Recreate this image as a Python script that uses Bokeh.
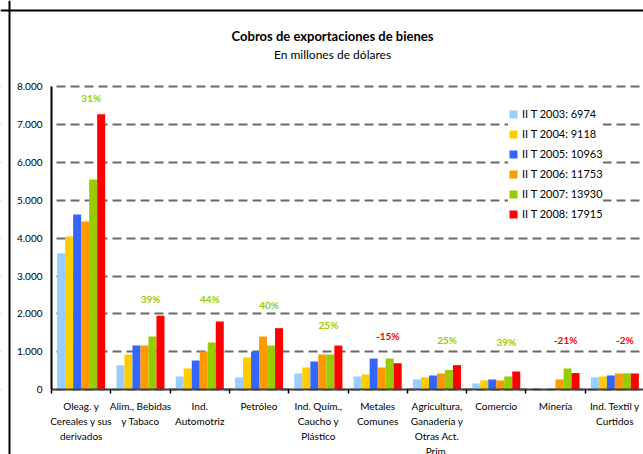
from bokeh.plotting import figure
from bokeh.models import (ColumnDataSource, FixedTicker, Legend, LegendItem,
                          Range1d, LinearAxis, Label, Span, BoxAnnotation)
from bokeh.transform import dodge
from bokeh.core.properties import value
from bokeh.embed import file_html
from bokeh.resources import INLINE

# ---------------- data ----------------
categories = [
    "Oleag. y\nCereales y sus\nderivados",
    "Alim., Bebidas\ny Tabaco",
    "Ind.\nAutomotriz",
    "Petróleo",
    "Ind. Quím.,\nCaucho y\nPlástico",
    "Metales\nComunes",
    "Agricultura,\nGanadería y\nOtras Act.\nPrim.",
    "Comercio",
    "Minería",
    "Ind. Textil y\nCurtidos",
]
series_labels = ["II T 2003: 6974", "II T 2004: 9118", "II T 2005: 10963",
                 "II T 2006: 11753", "II T 2007: 13930", "II T 2008: 17915"]
v2003 = [3600, 640, 350, 325, 430, 350, 272, 167, 10, 325]
v2004 = [4045, 930, 561, 851, 588, 403, 325, 246, 10, 351]
v2005 = [4625, 1166, 772, 1009, 746, 824, 377, 272, 10, 377]
v2006 = [4440, 1166, 1009, 1403, 930, 588, 430, 246, 272, 430]
v2007 = [5550, 1403, 1245, 1166, 930, 824, 525, 351, 561, 435]
v2008 = [7265, 1956, 1798, 1625, 1166, 700, 650, 482, 440, 430]
pct_labels = ["31%", "39%", "44%", "40%", "25%", "-15%", "25%", "39%", "-21%", "-2%"]
pct_label_y = [7700, 2400, 2400, 2245, 1715, 1415, 1320, 1265, 1300, 1300]
y_ticks = [0, 1000, 2000, 3000, 4000, 5000, 6000, 7000, 8000]
y_tick_labels = ["0", "1.000", "2.000", "3.000", "4.000", "5.000", "6.000", "7.000", "8.000"]

title_text = "Cobros de exportaciones de bienes"
subtitle_text = "En millones de dólares"

colors = ["#99CCFF", "#FFCC00", "#3366FF", "#FF9900", "#99CC00", "#FF0000"]
FONT = "Lato"

n = len(categories)
xc = [i + 0.5 for i in range(n)]
series = [v2003, v2004, v2005, v2006, v2007, v2008]
data = dict(x=xc, cat=categories)
for k, s in enumerate(series):
    data[f"s{k}"] = s
src = ColumnDataSource(data)

# layout: the frame fills the whole canvas; axes sit at fixed data locations
W, H = 643, 454
px_x = 59.3            # pixels per category
px_y = 37.91 / 1000.0  # pixels per unit
x0 = -51 / px_x
y1 = 8000 + 86 / px_y
x_range = Range1d(x0, x0 + W / px_x)
y_range = Range1d(y1 - H / px_y, y1)

p = figure(width=W, height=H, x_range=x_range, y_range=y_range,
           output_backend="svg", toolbar_location=None,
           x_axis_location=None, y_axis_location=None,
           min_border_left=0, min_border_right=0, min_border_top=0, min_border_bottom=0)
p.outline_line_color = None
p.background_fill_color = "white"
p.border_fill_color = "white"

# grid
p.xgrid.grid_line_color = None
p.ygrid.ticker = FixedTicker(ticks=y_ticks)
p.ygrid.grid_line_color = "#6A6A6A"
p.ygrid.grid_line_width = 2
p.ygrid.grid_line_dash = "9 5"
# keep grid lines to the right of the value axis
p.add_layout(BoxAnnotation(right=0, fill_color="white", fill_alpha=1.0,
                           line_color=None, level="underlay"))

bw = 0.135
renderers = []
for k in range(6):
    r = p.vbar(x=dodge("x", (k - 2.5) * bw, range=p.x_range), top=f"s{k}", width=bw,
               source=src, fill_color=colors[k], line_color=None)
    renderers.append(r)

# value axis
yaxis = LinearAxis(fixed_location=0, bounds=(0, 8000))
yaxis.ticker = FixedTicker(ticks=y_ticks)
yaxis.major_label_overrides = {t: l for t, l in zip(y_ticks, y_tick_labels)}
yaxis.major_tick_out = 0
yaxis.major_tick_in = 0
yaxis.minor_tick_out = 0
yaxis.minor_tick_in = 0
yaxis.axis_line_color = "#000000"
yaxis.axis_line_width = 2
yaxis.major_label_text_font = FONT
yaxis.major_label_text_font_size = "10px"
yaxis.major_label_text_color = "#000000"
yaxis.major_label_standoff = 9
p.add_layout(yaxis, "left")

# category axis
xaxis = LinearAxis(fixed_location=0, bounds=(0, n))
xaxis.ticker = FixedTicker(ticks=xc, minor_ticks=list(range(n + 1)))
xaxis.major_label_overrides = {x: c for x, c in zip(xc, categories)}
xaxis.major_tick_out = 0
xaxis.major_tick_in = 0
xaxis.minor_tick_out = 4
xaxis.minor_tick_in = 0
xaxis.minor_tick_line_color = "#000000"
xaxis.minor_tick_line_width = 1.5
xaxis.axis_line_color = "#404040"
xaxis.axis_line_width = 2
xaxis.major_label_text_font = FONT
xaxis.major_label_text_font_size = "10px"
xaxis.major_label_text_color = "#000000"
xaxis.major_label_text_line_height = 1.25
xaxis.major_label_standoff = 6
p.add_layout(xaxis, "below")

# percentage labels
pct_src = ColumnDataSource(dict(
    x=xc, y=pct_label_y, t=pct_labels,
    c=["#FF0000" if s.startswith("-") else "#99CC00" for s in pct_labels]))
p.text(x=dodge("x", 0.17, range=p.x_range), y="y", text="t", source=pct_src,
       text_color="c", text_font=value(FONT), text_font_style="bold",
       text_font_size="10px", text_align="center", text_baseline="middle")

# legend
legend = Legend(items=[LegendItem(label=series_labels[k], renderers=[renderers[k]])
                       for k in range(6)],
                location=(508, 234), orientation="vertical",
                glyph_width=10, glyph_height=10, label_height=10, spacing=7,
                label_standoff=4, padding=8, margin=0,
                border_line_color=None, background_fill_color="white",
                background_fill_alpha=1.0,
                label_text_font=FONT, label_text_font_size="11px",
                label_text_color="#000000")
p.add_layout(legend)

# titles
p.add_layout(Label(x=(332 - 51) / px_x, y=8000 + (86 - 35.7) / px_y, text=title_text,
                   text_align="center", text_baseline="middle",
                   text_font=FONT, text_font_size="13px", text_font_style="bold",
                   text_color="#000000"))
p.add_layout(Label(x=(332 - 51) / px_x, y=8000 + (86 - 54.3) / px_y, text=subtitle_text,
                   text_align="center", text_baseline="middle",
                   text_font=FONT, text_font_size="12px",
                   text_color="#000000"))

# outer frame (left and top edges of the chart box)
p.add_layout(Span(location=x0 + 9 / px_x, dimension="height",
                  line_color="#000000", line_width=2, level="overlay"))
p.add_layout(Span(location=y1 - 10 / px_y, dimension="width",
                  line_color="#000000", line_width=2, level="overlay"))

open("out.html", "w").write(file_html(p, INLINE))
